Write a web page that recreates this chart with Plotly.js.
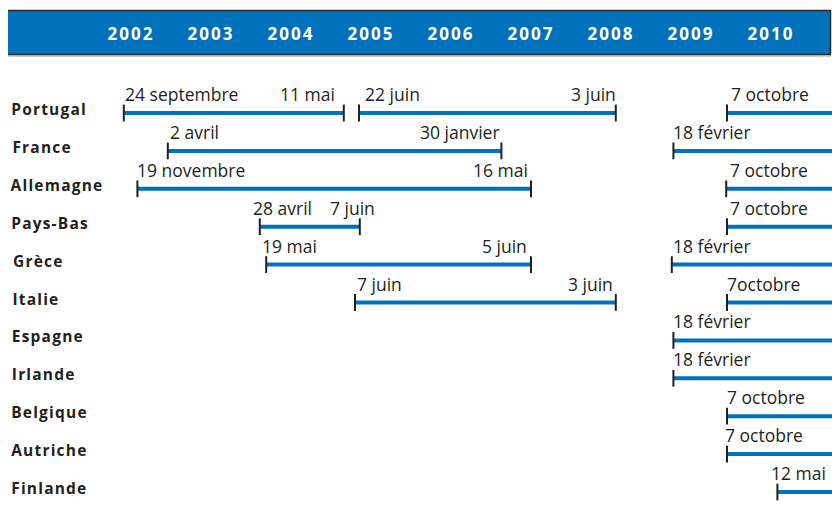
<!DOCTYPE html>
<html><head><meta charset="utf-8">
<script src="https://cdn.plot.ly/plotly-3.0.1.min.js"></script>
<style>
html,body{margin:0;padding:0;background:#fff;}
#chart{width:832px;height:512px;}
.xtick text{letter-spacing:2px;}
</style></head><body><div id="chart"></div>
<script>
// ---- data ----
const years = [2002, 2003, 2004, 2005, 2006, 2007, 2008, 2009, 2010];
const yearLabels = ['2002', '2003', '2004', '2005', '2006', '2007', '2008', '2009', '2010'];
const countries = ['Portugal', 'France', 'Allemagne', 'Pays-Bas', 'Grèce', 'Italie', 'Espagne', 'Irlande', 'Belgique', 'Autriche', 'Finlande'];

// one entry per segment (null end = still open at the right edge)
const segCountry = ['Portugal', 'Portugal', 'Portugal', 'France', 'France', 'Allemagne', 'Allemagne', 'Pays-Bas', 'Pays-Bas', 'Grèce', 'Grèce', 'Italie', 'Italie', 'Espagne', 'Irlande', 'Belgique', 'Autriche', 'Finlande'];
const segStart = [2001.91, 2004.85, 2009.45, 2002.46, 2008.78, 2002.08, 2009.44, 2003.61, 2009.45, 2003.69, 2008.76, 2004.80, 2009.45, 2008.78, 2008.78, 2009.45, 2009.45, 2010.08];
const segEnd = [2004.66, 2008.06, null, 2006.63, null, 2007.00, null, 2004.86, null, 2007.00, null, 2008.06, null, null, null, null, null, null];
const startLabels = ['24 septembre', '22 juin', '7 octobre', '2 avril', '18 février', '19 novembre', '7 octobre', '28 avril', '7 octobre', '19 mai', '18 février', '7 juin', '7octobre', '18 février', '18 février', '7 octobre', '7 octobre', '12 mai'];
const endLabels = ['11 mai', '3 juin', '', '30 janvier', '', '16 mai', '', '7 juin', '', '5 juin', '', '3 juin', '', '', '', '', '', ''];

// ---- styling (label nudges in px relative to the tick) ----
const startShift = [1, 6, 4, 2, 0, 0, 4, -7, 3, -4, 1, 2, 0, 0, 0, 0, -2, -6];
const endShift = [-9, 0, 0, -1, 0, -3, 0, 15, 0, -4, 0, -3, 0, 0, 0, 0, 0, 0];

const W = 832, H = 512;
const pxPerYear = 80, x2002px = 131;
const xr = [2002 + (0 - x2002px) / pxPerYear, 2002 + (W - x2002px) / pxPerYear];
const row0 = 113, rowStep = 37.9;
const yr = [(H - row0) / rowStep, (0 - row0) / rowStep];
const openEnd = xr[1] + 1;

const blue = '#0071bb';
const ink = '#231f20';
const dateFont = {family: 'Open Sans', size: 17.5, color: ink};

const lx = [], ly = [], tx = [], ty = [];
const annotations = [];
segCountry.forEach((c, i) => {
  const r = countries.indexOf(c);
  const e = segEnd[i] === null ? openEnd : segEnd[i];
  lx.push(segStart[i], e, null); ly.push(r, r, null);
  tx.push(segStart[i]); ty.push(r);
  if (segEnd[i] !== null) { tx.push(segEnd[i]); ty.push(r); }
  annotations.push({x: segStart[i], y: r, xref: 'x', yref: 'y', text: startLabels[i], showarrow: false,
    xanchor: 'left', yanchor: 'middle', yshift: 19, xshift: startShift[i], borderpad: 0, borderwidth: 0,
    font: dateFont});
  if (endLabels[i]) {
    annotations.push({x: segEnd[i], y: r, xref: 'x', yref: 'y', text: endLabels[i], showarrow: false,
      xanchor: 'right', yanchor: 'middle', yshift: 19, xshift: endShift[i], borderpad: 0, borderwidth: 0,
      font: dateFont});
  }
});
countries.forEach((c, r) => {
  annotations.push({x: 11 / W, y: r, xref: 'paper', yref: 'y', text: c, showarrow: false,
    xanchor: 'left', yanchor: 'middle', yshift: 4, xshift: 5, borderpad: 0, borderwidth: 0,
    font: {family: 'Open Sans', size: 15.5, color: ink, weight: 'bold'}});
});

const traces = [
  {x: lx, y: ly, type: 'scatter', mode: 'lines', line: {color: blue, width: 4}, hoverinfo: 'skip', showlegend: false},
  {x: tx, y: ty, type: 'scatter', mode: 'markers', hoverinfo: 'skip', showlegend: false,
    marker: {symbol: 'line-ns-open', size: 12, line: {color: ink, width: 2}, color: ink}}
];

const pY = v => 1 - v / H;
const layout = {
  width: W, height: H, margin: {l: 0, r: 0, t: 0, b: 0},
  paper_bgcolor: '#fff', plot_bgcolor: '#fff', showlegend: false,
  xaxis: {range: xr, anchor: 'free', position: pY(22), side: 'bottom', tickvals: years, ticktext: yearLabels,
    ticks: '', showgrid: false, zeroline: false, showline: false, automargin: false, fixedrange: true,
    tickfont: {family: 'Open Sans', size: 17, color: '#ffffff', weight: 'bold'}},
  yaxis: {range: yr, visible: false, fixedrange: true},
  shapes: [
    {type: 'rect', xref: 'paper', yref: 'paper', x0: 8 / W, x1: 830 / W, y0: pY(54.5), y1: pY(10.5), fillcolor: blue, line: {width: 0}, layer: 'below'},
    {type: 'line', xref: 'paper', yref: 'paper', x0: 8 / W, x1: 831 / W, y0: pY(10.5), y1: pY(10.5), line: {color: '#2a2a2a', width: 1.5}, layer: 'below'},
    {type: 'line', xref: 'paper', yref: 'paper', x0: 8 / W, x1: 831 / W, y0: pY(54.5), y1: pY(54.5), line: {color: '#2a2a2a', width: 1.5}, layer: 'below'},
    {type: 'line', xref: 'paper', yref: 'paper', x0: 8 / W, x1: 831 / W, y0: pY(56), y1: pY(56), line: {color: '#9a9a9a', width: 1}, layer: 'below'},
    {type: 'line', xref: 'paper', yref: 'paper', x0: 830.5 / W, x1: 830.5 / W, y0: pY(10.5), y1: pY(54.5), line: {color: '#2a2a2a', width: 1.5}, layer: 'below'}
  ],
  annotations: annotations
};

Plotly.newPlot('chart', traces, layout, {displayModeBar: false, staticPlot: true}).then(gd => {
  gd.querySelectorAll('.annotation-text').forEach(t => {
    if (countries.includes(t.textContent)) t.style.letterSpacing = '1.2px';
  });
});
</script></body></html>
